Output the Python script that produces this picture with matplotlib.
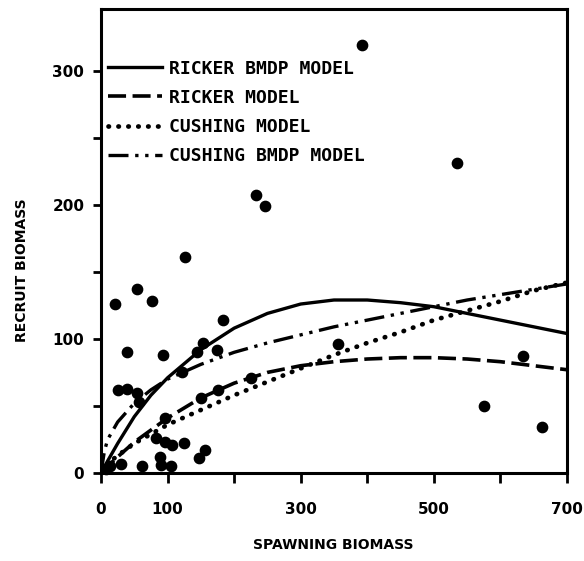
import numpy as np
import matplotlib
matplotlib.use('Agg')
import matplotlib.pyplot as plt

# observed spawning / recruit biomass
spawn = [392, 535, 233, 247, 126, 54, 21, 77, 183, 39, 93, 356, 153, 144, 174,
         26, 39, 54, 57, 122, 96, 83, 96, 107, 125, 156, 147, 89, 90, 105, 62,
         30, 14, 634, 575, 662, 226, 175, 150, 8]
recruit = [319, 231, 207, 199, 161, 137, 126, 128, 114, 90, 88, 96, 97, 90, 92,
           62, 63, 60, 53, 75, 41, 26, 23, 21, 22, 17, 11, 12, 6, 5, 5,
           7, 5, 87, 50, 34, 71, 62, 56, 3]

# fitted curves
s_curve = [0, 10, 25, 50, 75, 100, 150, 200, 250, 300, 350, 400, 450, 500, 550, 600, 650, 700]
ricker_bmdp = [0, 9, 22, 42, 58, 71, 92, 108, 119, 126, 129, 129, 127, 124, 119, 114, 109, 104]
ricker = [0, 5, 12, 23, 32, 41, 56, 67, 75, 80, 83, 85, 86, 86, 85, 83, 80, 77]
cushing = [0, 7, 13, 22, 29, 36, 47, 58, 68, 78, 88, 97, 105, 114, 121, 128, 136, 142]
s_cbmdp = [0, 5, 10, 25, 50, 75, 100, 150, 200, 250, 300, 350, 400, 450, 500, 550, 600, 650, 700]
cushing_bmdp = [0, 16, 25, 38, 52, 62, 70, 81, 90, 97, 103, 109, 114, 119, 124, 129, 133, 137, 141]

fig = plt.figure(figsize=(5.84, 5.61), dpi=100)
ax = fig.add_axes([101/584, 1 - 473/561, 466/584, 464/561])

ax.plot(s_curve, ricker_bmdp, color='black', lw=2.4, label='RICKER BMDP MODEL')
ax.plot(s_curve, ricker, color='black', lw=2.6, linestyle=(0, (5, 1.8)),
        label='RICKER MODEL')
ax.plot(s_curve, cushing, color='black', lw=3.4, linestyle=(0, (0.1, 2.0)),
        dash_capstyle='round', label='CUSHING MODEL')
ax.plot(s_cbmdp, cushing_bmdp, color='black', lw=2.4,
        linestyle=(0, (6, 2, 1, 2, 1, 2)), label='CUSHING BMDP MODEL')
ax.scatter(spawn, recruit, s=55, color='black', zorder=5, clip_on=False)

ax.set_xlim(0, 700)
ax.set_ylim(0, 346)
ax.set_xticks(np.arange(0, 701, 100))
ax.set_xticklabels(['0', '100', '', '300', '', '500', '', '700'])
ax.set_yticks(np.arange(0, 301, 50))
ax.set_yticklabels(['0', '', '100', '', '200', '', '300'])
ax.tick_params(axis='x', direction='out', length=7, width=2, pad=14)
ax.tick_params(axis='y', direction='out', length=6, width=2, pad=6)
for lab in ax.get_xticklabels() + ax.get_yticklabels():
    lab.set_fontweight('bold')
    lab.set_fontsize(11)
for sp in ax.spines.values():
    sp.set_linewidth(2.2)

fig.text(333/584, 1 - 545/561, 'SPAWNING BIOMASS', ha='center', va='center',
         fontsize=10, fontweight='bold')
fig.text(22/584, 1 - 270/561, 'RECRUIT BIOMASS', ha='center', va='center',
         rotation=90, fontsize=10, fontweight='bold')

ax.legend(loc='upper left', bbox_to_anchor=(0.015, 0.891), frameon=False,
          prop={'family': 'DejaVu Sans Mono', 'weight': 'bold', 'size': 13},
          handlelength=3.0, handletextpad=0.4, labelspacing=0.62,
          borderpad=0, borderaxespad=0)

fig.savefig('out.png', dpi=100)
